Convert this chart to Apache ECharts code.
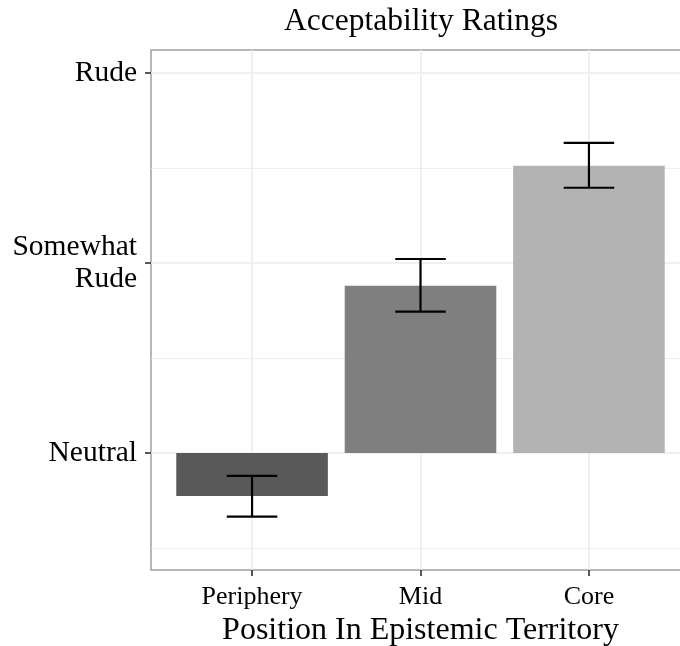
<!DOCTYPE html>
<html><head><meta charset="utf-8">
<script src="https://cdn.jsdelivr.net/npm/echarts@6/dist/echarts.min.js"></script>
<style>html,body{margin:0;padding:0;background:#fff}#c{width:680px;height:646px}</style>
</head><body><div id="c"></div>
<script>
const categories = ['Periphery', 'Mid', 'Core'];
const yTickValues = [0, 1, 2];
const yTickLabels = ['Neutral', 'Somewhat\nRude', 'Rude'];
const meanValues = [-0.226, 0.880, 1.512];
const lowerValues = [-0.335, 0.744, 1.396];
const upperValues = [-0.121, 1.021, 1.632];
const minorGridValues = [-0.5, 0.5, 1.5];
const barColors = ['#595959', '#7f7f7f', '#b3b3b3'];

const FONT = 'Liberation Serif';
const xPositions = categories.map((c, i) => i + 1);
const seriesData = categories.map((c, i) => [xPositions[i], meanValues[i], lowerValues[i], upperValues[i]]);

function renderBar(params, api) {
  const x = api.value(0), v = api.value(1);
  const p0 = api.coord([x - 0.45, 0]);
  const p1 = api.coord([x + 0.45, v]);
  return {
    type: 'rect',
    shape: {
      x: Math.min(p0[0], p1[0]), y: Math.min(p0[1], p1[1]),
      width: Math.abs(p1[0] - p0[0]), height: Math.abs(p1[1] - p0[1])
    },
    style: { fill: barColors[params.dataIndex] }
  };
}
function renderErr(params, api) {
  const x = api.value(0), lo = api.value(2), hi = api.value(3);
  const top = api.coord([x, hi]), bot = api.coord([x, lo]);
  const tl = api.coord([x - 0.15, hi]), tr = api.coord([x + 0.15, hi]);
  const bl = api.coord([x - 0.15, lo]), br = api.coord([x + 0.15, lo]);
  const st = { stroke: '#000', lineWidth: 2.2 };
  return {
    type: 'group',
    children: [
      { type: 'line', shape: { x1: top[0], y1: top[1], x2: bot[0], y2: bot[1] }, style: st },
      { type: 'line', shape: { x1: tl[0], y1: tl[1], x2: tr[0], y2: tr[1] }, style: st },
      { type: 'line', shape: { x1: bl[0], y1: bl[1], x2: br[0], y2: br[1] }, style: st }
    ]
  };
}

const chart = echarts.init(document.getElementById('c'), null, { renderer: 'canvas' });
chart.setOption({
  animation: false,
  backgroundColor: '#fff',
  title: {
    text: 'Acceptability Ratings', left: 416, top: 1, textAlign: 'center',
    textStyle: { fontFamily: FONT, fontSize: 31.5, fontWeight: 'normal', color: '#000' }
  },
  grid: {
    left: 151, top: 50, right: -10, bottom: 76,
    show: true, backgroundColor: '#fff', borderColor: '#a0a0a0', borderWidth: 1.5,
    containLabel: false, outerBoundsMode: 'none'
  },
  xAxis: {
    type: 'value', min: 0.4, max: 3.6,
    axisLine: { show: false, onZero: false },
    axisTick: { show: true, customValues: xPositions, length: 6, lineStyle: { color: '#222', width: 1.5 } },
    axisLabel: {
      customValues: xPositions, formatter: v => categories[Math.round(v) - 1],
      fontFamily: FONT, fontSize: 26, color: '#000', margin: 14
    },
    splitLine: { show: true, lineStyle: { color: '#ebebeb', width: 1.5 } },
    name: 'Position In Epistemic Territory', nameLocation: 'middle', nameGap: 41,
    nameTextStyle: { fontFamily: FONT, fontSize: 32, color: '#000' }
  },
  yAxis: {
    type: 'value', min: -0.616, max: 2.121,
    axisLine: { show: false, onZero: false },
    axisTick: { show: true, customValues: yTickValues, length: 6, lineStyle: { color: '#222', width: 1.5 } },
    axisLabel: {
      customValues: yTickValues, formatter: v => yTickLabels[yTickValues.indexOf(v)],
      fontFamily: FONT, fontSize: 29.5, lineHeight: 32, color: '#000', margin: 14, align: 'right'
    },
    splitLine: { show: true, lineStyle: { color: '#ebebeb', width: 1.5 } }
  },
  series: [
    {
      type: 'custom', name: 'bars', z: 2, renderItem: renderBar, data: seriesData,
      encode: { x: 0, y: [1, 2, 3] },
      markLine: {
        silent: true, symbol: 'none', z: 1, label: { show: false },
        lineStyle: { color: '#ebebeb', width: 0.8, type: 'solid' },
        data: minorGridValues.map(v => ({ yAxis: v }))
      }
    },
    {
      type: 'custom', name: 'errors', z: 3, renderItem: renderErr, data: seriesData,
      encode: { x: 0, y: [1, 2, 3] }
    }
  ]
});
</script></body></html>
